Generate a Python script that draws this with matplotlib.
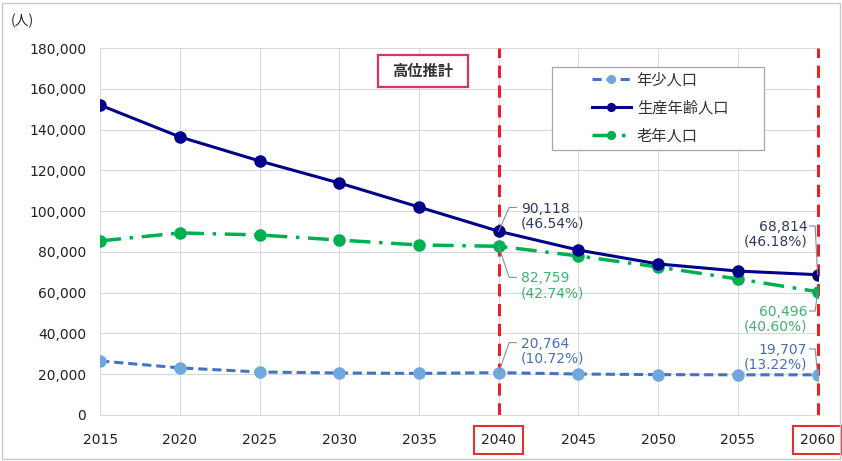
import matplotlib.pyplot as plt
from matplotlib.patches import Rectangle

plt.rcParams['font.family'] = ['Noto Sans CJK JP', 'DejaVu Sans']

years = [2015, 2020, 2025, 2030, 2035, 2040, 2045, 2050, 2055, 2060]
young = [26500, 23100, 21100, 20600, 20400, 20764, 20100, 19800, 19700, 19707]
working = [152000, 136400, 124600, 113800, 102000, 90118, 80900, 74100, 70600, 68814]
elderly = [85400, 89300, 88300, 85800, 83400, 82759, 78000, 72600, 66700, 60496]
highlight_years = [2040, 2060]
shares = {(2040, 'w'): '46.54%', (2040, 'e'): '42.74%', (2040, 'y'): '10.72%',
          (2060, 'w'): '46.18%', (2060, 'e'): '40.60%', (2060, 'y'): '13.22%'}

fig = plt.figure(figsize=(8.42, 4.61), dpi=100)
ax = fig.add_axes([0.119, 0.0998, 0.852, 0.796])
x = list(range(len(years)))

ax.plot(x, young, color='#4472C4', ls=(0, (3, 1.6)), lw=2.2, marker='o', ms=8,
        mfc='#6FA8DC', mec='#6FA8DC', label='年少人口', zorder=3)
ax.plot(x, working, color='#00008B', lw=2.2, marker='o', ms=8,
        mfc='#00008B', mec='#00008B', label='生産年齢人口', zorder=4)
ax.plot(x, elderly, color='#00B050', ls=(0, (6, 2.5, 1, 2.5)), lw=2.5, marker='o', ms=8,
        mfc='#00B050', mec='#00B050', label='老年人口', zorder=3)

ax.set_xlim(0, len(years) - 1)
ax.set_ylim(0, 180000)
ax.set_yticks(range(0, 180001, 20000))
ax.set_yticklabels([f'{v:,}' for v in range(0, 180001, 20000)], fontsize=10,
                   family='DejaVu Sans', color='#222222')
ax.set_xticks(x)
ax.set_xticklabels([str(y) for y in years], fontsize=10, family='DejaVu Sans', color='#222222')
ax.tick_params(axis='y', length=0, pad=10)
ax.tick_params(axis='x', length=0, pad=13)
ax.grid(True, color='#D9D9D9', lw=0.8)
ax.set_axisbelow(True)
for s in ax.spines.values():
    s.set_visible(False)
ax.spines['bottom'].set_visible(True)
ax.spines['bottom'].set_color('#D9D9D9')

# highlight verticals
for yr in highlight_years:
    i = years.index(yr)
    ax.axvline(i, color='#E8202A', ls=(0, (4, 2.5)), lw=2.2, zorder=2, clip_on=False)
for lab in ax.get_xticklabels():
    if int(lab.get_text()) in highlight_years:
        lab.set_bbox(dict(boxstyle='square,pad=0.5', fc='white', ec='#E03030', lw=1.5))

# annotations with leader lines
def note(i, val, pct, ty, side, color):
    # ty: value level of the first text line
    line_h = 8200
    cy = ty - line_h / 2
    if side == 'r':
        tx = i + 0.28
        ax.plot([i, i + 0.13, i + 0.22], [val, ty, ty], color='#7F8FA6', lw=0.8, zorder=5)
        ha = 'left'
    else:
        tx = i - 0.13
        ax.plot([i, i - 0.03, i - 0.1], [val, ty, ty], color='#7F8FA6', lw=0.8, zorder=5)
        ha = 'right'
    ax.text(tx, cy, f'{val:,}\n({pct})', fontsize=10, color=color, ha=ha, va='center',
            family='DejaVu Sans', linespacing=1.05, zorder=6)

note(5, working[5], shares[(2040, 'w')], 101800, 'r', '#2E3A66')
note(5, elderly[5], shares[(2040, 'e')], 67500, 'r', '#3CB371')
note(5, young[5], shares[(2040, 'y')], 35500, 'r', '#4A6FB5')
note(9, working[9], shares[(2060, 'w')], 92700, 'l', '#2E3A66')
note(9, elderly[9], shares[(2060, 'e')], 51000, 'l', '#3CB371')
note(9, young[9], shares[(2060, 'y')], 32400, 'l', '#4A6FB5')

# legend: frameless, with a separate wide box behind it
leg = ax.legend(loc='upper left', bbox_to_anchor=(0.685, 0.937), fontsize=11,
                frameon=False, handlelength=2.6, labelspacing=0.72, borderpad=0,
                handletextpad=0.35, markerscale=0.7, borderaxespad=0)
for t in leg.get_texts():
    t.set_color('#333333')
leg.set_zorder(10)
ax.add_patch(Rectangle((552 / 842, 1 - 150 / 461), 212 / 842, 83 / 461,
                       transform=fig.transFigure, fc='white', ec='#A6A6A6', lw=0.9,
                       zorder=9, clip_on=False))

# 高位推計 label
ax.add_patch(Rectangle((378 / 842, 1 - 87 / 461), 90 / 842, 32 / 461,
                       transform=fig.transFigure, fc='white', ec='#D6336C', lw=1.6,
                       zorder=9, clip_on=False))
ax.text(423 / 842, 1 - 71 / 461, '高位推計', fontsize=11, ha='center', va='center',
        weight='bold', color='#333333', zorder=11, transform=fig.transFigure)

fig.text(0.013, 0.945, '(人)', fontsize=10, color='#222222')
fig.add_artist(Rectangle((0.002, 0.004), 0.996, 0.99, transform=fig.transFigure,
                         fill=False, ec='#C8C8C8', lw=1))

fig.savefig('out.png', dpi=100)
